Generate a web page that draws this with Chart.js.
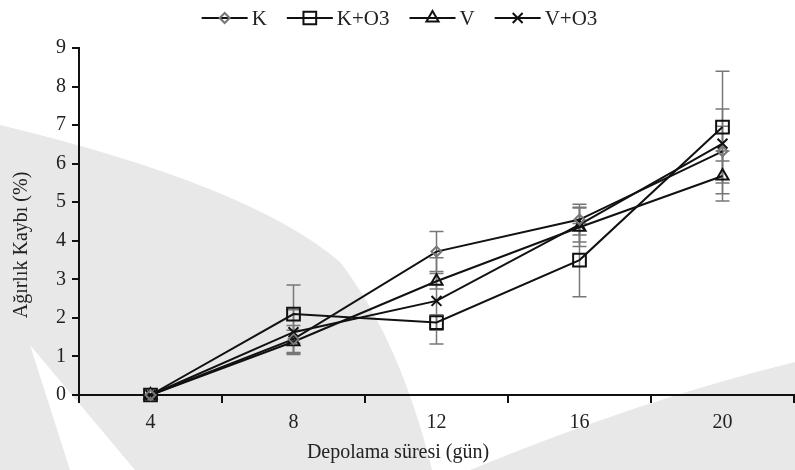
<!DOCTYPE html>
<html>
<head>
<meta charset="utf-8">
<script src="https://cdn.jsdelivr.net/npm/chart.js@4.4.0/dist/chart.umd.min.js"></script>
<style>
  html, body { margin: 0; padding: 0; background: #fff; }
  #wrap { width: 795px; height: 470px; }
</style>
</head>
<body>
<div id="wrap"><canvas id="lossChart" width="795" height="470"></canvas></div>
<script>
// storage days (x categories)
const days = ['4', '8', '12', '16', '20'];
const seriesNames = ['K', 'K+O3', 'V', 'V+O3'];

// weight loss (%)
const kLoss    = [0, 1.45, 3.72, 4.55, 6.32];
const kO3Loss  = [0, 2.10, 1.88, 3.50, 6.95];
const vLoss    = [0, 1.38, 2.95, 4.35, 5.68];
const vO3Loss  = [0, 1.63, 2.44, 4.42, 6.52];

// error bar half-widths
const kErr     = [0, 0.35, 0.52, 0.40, 1.10];
const kO3Err   = [0, 0.75, 0.20, 0.95, 1.45];
const vErr     = [0, 0.30, 0.20, 0.50, 0.65];
const vO3Err   = [0, 0.58, 1.12, 0.45, 0.45];

const yTicks = [0, 1, 2, 3, 4, 5, 6, 7, 8, 9];

const serif = "'Liberation Serif', 'Times New Roman', serif";
const lossSeries = [kLoss, kO3Loss, vLoss, vO3Loss];
const errSeries = [kErr, kO3Err, vErr, vO3Err];
const markerStyle = [
    { pointStyle: 'rectRot',  radius: 5, color: '#777' },
    { pointStyle: 'rect',     radius: 9, color: '#111' },
    { pointStyle: 'triangle', radius: 7, color: '#111' },
    { pointStyle: 'crossRot', radius: 7, color: '#111' }
];

// light grey swoosh behind the plot
const backdrop = {
    id: 'backdrop',
    beforeDraw(chart) {
        const { ctx, width: w, height: h } = chart;
        ctx.save();
        ctx.fillStyle = '#fff';
        ctx.fillRect(0, 0, w, h);
        ctx.fillStyle = '#e8e8e8';
        ctx.beginPath();
        ctx.moveTo(0, 125);
        ctx.quadraticCurveTo(250, 185, 340, 262);
        ctx.quadraticCurveTo(400, 340, 432, h);
        ctx.lineTo(0, h);
        ctx.closePath();
        ctx.fill();
        ctx.beginPath();
        ctx.moveTo(470, h);
        ctx.quadraticCurveTo(640, 400, w, 362);
        ctx.lineTo(w, h);
        ctx.closePath();
        ctx.fill();
        ctx.fillStyle = '#fff';
        ctx.beginPath();
        ctx.moveTo(30, 345);
        ctx.lineTo(135, h);
        ctx.lineTo(70, h);
        ctx.closePath();
        ctx.fill();
        ctx.restore();
    }
};

const errorBars = {
    id: 'errorBars',
    beforeDatasetsDraw(chart) {
        const ctx = chart.ctx;
        const yScale = chart.scales.y;
        ctx.save();
        ctx.strokeStyle = '#777';
        ctx.lineWidth = 1.5;
        chart.data.datasets.forEach((ds, i) => {
            const meta = chart.getDatasetMeta(i);
            meta.data.forEach((pt, j) => {
                const err = errSeries[i][j];
                if (!err) return;
                const top = yScale.getPixelForValue(ds.data[j] + err);
                const bot = yScale.getPixelForValue(ds.data[j] - err);
                ctx.beginPath();
                ctx.moveTo(pt.x, top); ctx.lineTo(pt.x, bot);
                ctx.moveTo(pt.x - 7, top); ctx.lineTo(pt.x + 7, top);
                ctx.moveTo(pt.x - 7, bot); ctx.lineTo(pt.x + 7, bot);
                ctx.stroke();
            });
        });
        ctx.restore();
    }
};

// axis titles and the line+marker legend
const labelsPlugin = {
    id: 'labelsPlugin',
    afterDraw(chart) {
        const ctx = chart.ctx;
        ctx.save();
        ctx.fillStyle = '#222';
        ctx.font = '20px ' + serif;
        ctx.textAlign = 'center';
        ctx.textBaseline = 'middle';
        ctx.fillText('Depolama süresi (gün)', 398, 453);
        ctx.save();
        ctx.translate(22, 245);
        ctx.rotate(-Math.PI / 2);
        ctx.fillText('Ağırlık Kaybı (%)', 0, 0);
        ctx.restore();

        // legend
        const lineW = 46, gap = 4, spacing = 20, ly = 18;
        ctx.font = '21px ' + serif;
        const widths = seriesNames.map(n => lineW + gap + ctx.measureText(n).width);
        const total = widths.reduce((a, b) => a + b, 0) + spacing * (widths.length - 1);
        let x = chart.width / 2 - total / 2 + 2;
        ctx.textAlign = 'left';
        seriesNames.forEach((name, i) => {
            const m = markerStyle[i];
            ctx.strokeStyle = '#111';
            ctx.lineWidth = 2;
            ctx.beginPath();
            ctx.moveTo(x, ly); ctx.lineTo(x + lineW, ly);
            ctx.stroke();
            ctx.strokeStyle = m.color;
            ctx.fillStyle = 'rgba(0,0,0,0)';
            Chart.helpers.drawPoint(ctx, { pointStyle: m.pointStyle, radius: m.radius, rotation: 0, borderWidth: 2 }, x + lineW / 2, ly);
            ctx.fillStyle = '#222';
            ctx.fillText(name, x + lineW + gap, ly + 1);
            x += widths[i] + spacing;
        });
        ctx.restore();
    }
};

const datasets = seriesNames.map((name, i) => ({
    label: name,
    data: lossSeries[i],
    borderColor: '#111',
    borderWidth: 2,
    tension: 0,
    fill: false,
    clip: false,
    pointStyle: markerStyle[i].pointStyle,
    pointRadius: markerStyle[i].radius,
    pointBorderColor: markerStyle[i].color,
    pointBackgroundColor: 'rgba(0,0,0,0)',
    pointBorderWidth: 2
}));

const ctx = document.getElementById('lossChart').getContext('2d');
new Chart(ctx, {
    type: 'line',
    data: { labels: days, datasets: datasets },
    options: {
        responsive: false,
        animation: false,
        devicePixelRatio: 1,
        layout: { autoPadding: false, padding: { top: 48, right: 1, left: 0, bottom: 0 } },
        plugins: {
            legend: { display: false },
            tooltip: { enabled: false }
        },
        scales: {
            x: {
                type: 'category',
                offset: true,
                grid: { offset: true, drawOnChartArea: false, tickLength: 8, color: '#111', lineWidth: 2 },
                border: { color: '#111', width: 2 },
                ticks: { color: '#222', font: { family: serif, size: 20 }, padding: 8, maxRotation: 0 },
                afterFit(scale) { scale.height = 75; }
            },
            y: {
                min: yTicks[0],
                max: yTicks[yTicks.length - 1],
                grid: { drawOnChartArea: false, tickLength: 7, color: '#111', lineWidth: 2 },
                border: { color: '#111', width: 2 },
                ticks: { stepSize: 1, color: '#222', font: { family: serif, size: 20 }, padding: 6 },
                afterBuildTicks(scale) { scale.ticks = yTicks.map(v => ({ value: v })); },
                afterFit(scale) { scale.width = 79; }
            }
        }
    },
    plugins: [backdrop, errorBars, labelsPlugin]
});
</script>
</body>
</html>
